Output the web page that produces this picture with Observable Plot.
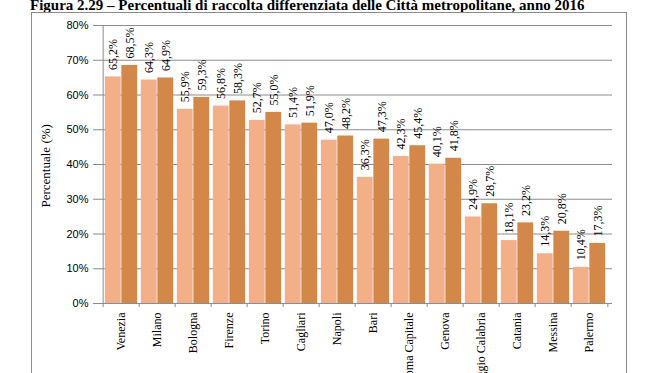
<!DOCTYPE html>
<html><head><meta charset="utf-8">
<script src="https://cdn.jsdelivr.net/npm/d3@7"></script>
<script src="https://cdn.jsdelivr.net/npm/@observablehq/plot@0.6"></script>
<style>
html,body{margin:0;padding:0;background:#fff;width:664px;height:373px;overflow:hidden;position:relative}
#title{position:absolute;left:30px;top:-2px;font:bold 15px/15px "Liberation Serif","Times New Roman",serif;white-space:nowrap;color:#000}
#box{position:absolute;left:31px;top:12px;width:594px;height:420px;border:1px solid #8c8c8c}
#chart{position:absolute;left:0;top:0}
</style></head><body>
<div id="title">Figura 2.29 – Percentuali di raccolta differenziata delle Città metropolitane, anno 2016</div>
<div id="box"></div>
<div id="chart"></div>
<script>
const cities = ["Venezia","Milano","Bologna","Firenze","Torino","Cagliari","Napoli","Bari","Roma Capitale","Genova","Reggio Calabria","Catania","Messina","Palermo"];
const anno2015 = [65.2,64.3,55.9,56.8,52.7,51.4,47.0,36.3,42.3,40.1,24.9,18.1,14.3,10.4];
const anno2016 = [68.5,64.9,59.3,58.3,55.0,51.9,48.2,47.3,45.4,41.8,28.7,23.2,20.8,17.3];
const yTicks = [0,10,20,30,40,50,60,70,80];
const yLabel = "Percentuale (%)";

const W = 664, H = 373, ml = 98, mr = 52, mt = 25, mb = 70;
const bw = (W - ml - mr) / cities.length;
const grey = "#8c8c8c";
const light = "#F2AF88", dark = "#D3884A";
const serif = "Liberation Serif, Times New Roman, serif";
const data = cities.map((c, i) => ({city: c, a: anno2015[i], b: anno2016[i]}));
const fmt = v => v.toFixed(1).replace(".", ",") + "%";

const chart = Plot.plot({
  width: W, height: H,
  marginLeft: ml, marginRight: mr, marginTop: mt, marginBottom: mb,
  style: {background: "transparent", fontFamily: serif, fontSize: "12px", color: "#000", overflow: "visible"},
  x: {type: "band", domain: cities, padding: 0, axis: null},
  y: {domain: [0, 80], axis: null},
  marks: [
    Plot.ruleY(yTicks, {stroke: grey}),
    Plot.barY(data, {x: "city", y: "a", fill: light, insetLeft: bw * 0.05, insetRight: bw * 0.5}),
    Plot.barY(data, {x: "city", y: "b", fill: dark, insetLeft: bw * 0.5, insetRight: bw * 0.05}),
    Plot.ruleY([0], {stroke: grey}),
    Plot.ruleX([cities[0]], {stroke: grey, dx: -bw / 2}),
    Plot.axisY({ticks: yTicks, tickSize: 5, tickPadding: 5, tickFormat: d => d + "%", label: null,
      stroke: grey, fill: "#000", fontFamily: "Liberation Sans, Arial, sans-serif", fontSize: 11}),
    Plot.text([yLabel], {frameAnchor: "left", rotate: -90, dx: -53, dy: 43, fontSize: 13, fontFamily: serif, fill: "#000"}),
    Plot.axisX({tickSize: 0, tickPadding: 9, tickRotate: -90, label: null, fontSize: 12, fontFamily: serif, fill: "#000"}),
    Plot.axisX({tickSize: 4, tickFormat: () => "", label: null, dx: -bw / 2, stroke: grey}),
    Plot.axisX({ticks: [cities[cities.length - 1]], tickSize: 4, tickFormat: () => "", label: null, dx: bw / 2, stroke: grey}),
    Plot.text(data, {x: "city", y: "a", text: d => fmt(d.a), rotate: -90, textAnchor: "start", dx: -0.225 * bw, dy: -7, fontSize: 12, fill: "#000"}),
    Plot.text(data, {x: "city", y: "b", text: d => fmt(d.b), rotate: -90, textAnchor: "start", dx: 0.225 * bw, dy: -7, fontSize: 12, fill: "#000"})
  ]
});
document.getElementById("chart").appendChild(chart);
</script>
</body></html>
